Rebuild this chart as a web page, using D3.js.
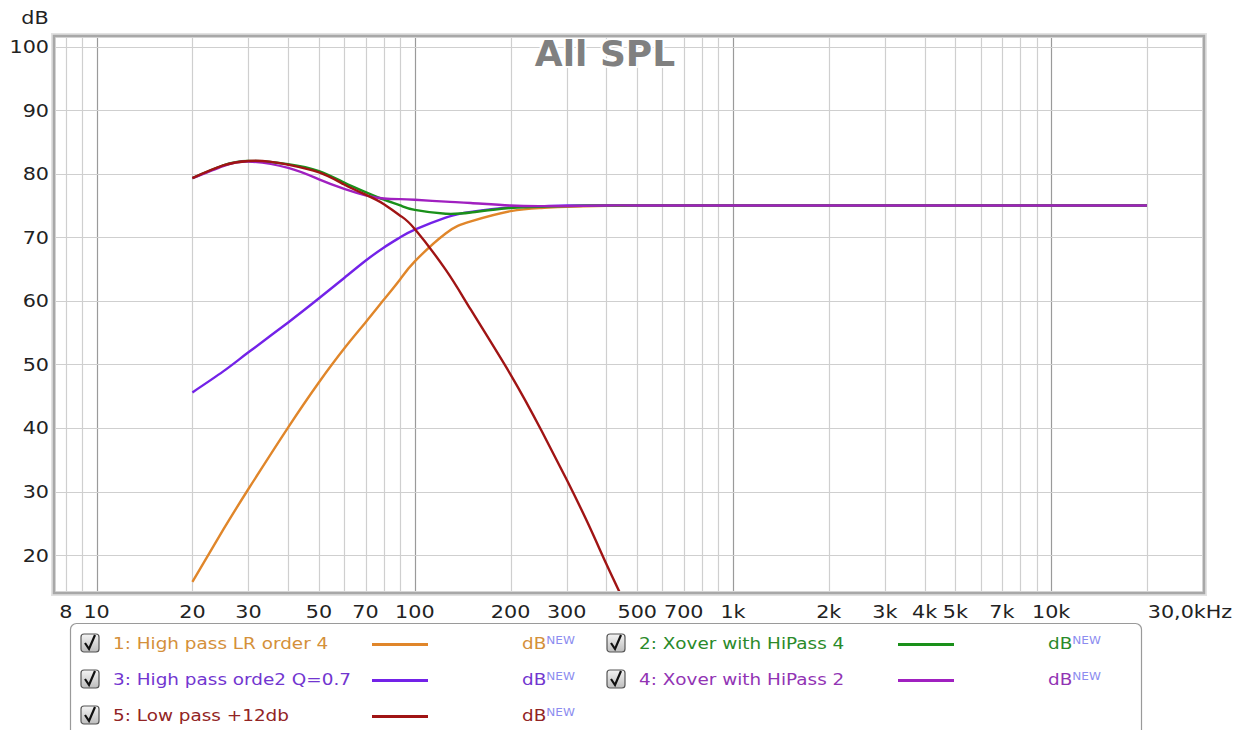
<!DOCTYPE html>
<html>
<head>
<meta charset="utf-8">
<script src="https://cdn.jsdelivr.net/npm/d3@7"></script>
<style>
  body { margin: 0; background: #fff; }
  svg text { font-family: "DejaVu Sans", Verdana, sans-serif; }
</style>
</head>
<body>
<svg id="chart" width="1233" height="730"></svg>
<script>
var svg = d3.select('svg#chart');

// data (Hz, dB)
var freq_main = [20, 25, 30, 40, 50, 60, 70, 80, 90, 100, 125, 150, 200, 250, 300, 400, 500, 1000, 2000, 5000, 10000, 20000];
var hp_lr4   = [15.8, 24.0, 30.4, 40.1, 47.2, 52.5, 56.6, 60.2, 63.4, 66.2, 70.6, 72.5, 74.1, 74.6, 74.8, 74.95, 75, 75, 75, 75, 75, 75];
var hp_o2    = [45.6, 48.9, 51.9, 56.6, 60.4, 63.6, 66.3, 68.4, 70.0, 71.2, 73.1, 74.0, 74.7, 74.9, 75, 75, 75, 75, 75, 75, 75, 75];
var xover_4  = [79.3, 81.3, 82.0, 81.5, 80.4, 78.6, 77.1, 75.9, 75.0, 74.3, 73.7, 73.9, 74.6, 74.8, 74.9, 75, 75, 75, 75, 75, 75, 75];
var xover_2  = [79.3, 81.2, 81.9, 80.9, 79.1, 77.6, 76.6, 76.1, 76.0, 75.9, 75.6, 75.4, 75.0, 74.9, 74.9, 75, 75, 75, 75, 75, 75, 75];
var freq_lp  = [20, 25, 30, 35, 40, 50, 60, 70, 80, 90, 100, 125, 150, 200, 250, 300, 350, 400, 440, 480];
var lp_12    = [79.3, 81.3, 82.0, 81.9, 81.4, 80.2, 78.3, 76.7, 75.2, 73.4, 71.3, 64.9, 58.6, 48.4, 39.6, 31.9, 25.0, 18.6, 14.2, 10.2];

var series = [
  {name: "1: High pass LR order 4", freq: freq_main, db: hp_lr4, color: "#e0862a", text: "#d4903a"},
  {name: "2: Xover with HiPass 4", freq: freq_main, db: xover_4, color: "#1a901a", text: "#2a8a2a"},
  {name: "3: High pass orde2 Q=0.7", freq: freq_main, db: hp_o2, color: "#7322e8", text: "#7236d0"},
  {name: "4: Xover with HiPass 2", freq: freq_main, db: xover_2, color: "#a020c0", text: "#9234b4"},
  {name: "5: Low pass +12db", freq: freq_lp, db: lp_12, color: "#a01414", text: "#922424"}
];
// drawing order (bottom to top)
var draw_order = [2, 0, 1, 3, 4];

var x_ticks = [8, 10, 20, 30, 50, 70, 100, 200, 300, 500, 700, 1000, 2000, 3000, 4000, 5000, 7000, 10000];
var x_tick_labels = ["8", "10", "20", "30", "50", "70", "100", "200", "300", "500", "700", "1k", "2k", "3k", "4k", "5k", "7k", "10k"];
var y_ticks = [20, 30, 40, 50, 60, 70, 80, 90, 100];

var p_left = 55, p_right = 1203, p_top = 37, p_bottom = 592;
var stretch = 1.15;

var x = d3.scaleLog().domain([7.4, 30000]).range([p_left, p_right]);
var y = d3.scaleLinear().domain([14.2, 101.5]).range([p_bottom, p_top]);

function place(px, py){ return 'translate(' + px + ',' + py + ') scale(' + stretch + ',1)'; }

// grid
var grid_freqs = [];
[1, 10, 100, 1000, 10000].forEach(function(dec){
  for (var m = 1; m < 10; m += 1){
    var f = dec * m;
    if (f >= 8 && f <= 20000) grid_freqs.push(f);
  }
});

var grid = svg.append('g');
grid.selectAll('line.v').data(grid_freqs).enter().append('line')
  .attr('x1', function(d){ return Math.round(x(d)) + 0.5; })
  .attr('x2', function(d){ return Math.round(x(d)) + 0.5; })
  .attr('y1', p_top).attr('y2', p_bottom)
  .style('stroke', function(d){ return [10, 100, 1000, 10000].indexOf(d) >= 0 ? '#9a9a9a' : '#cfcfcf'; })
  .style('stroke-width', '1.2px');
grid.selectAll('line.h').data(y_ticks).enter().append('line')
  .attr('x1', p_left).attr('x2', p_right)
  .attr('y1', function(d){ return Math.round(y(d)) + 0.5; })
  .attr('y2', function(d){ return Math.round(y(d)) + 0.5; })
  .style('stroke', '#cfcfcf')
  .style('stroke-width', '1.2px');

// title
svg.append('text')
  .attr('x', 605).attr('y', 66)
  .attr('text-anchor', 'middle')
  .style('font-size', '36px').style('font-weight', 'bold')
  .style('fill', '#808080')
  .style('stroke', '#fff').style('stroke-width', '4px')
  .style('paint-order', 'stroke')
  .text('All SPL');

// curves
svg.append('clipPath').attr('id', 'plotclip')
  .append('rect').attr('x', p_left).attr('y', p_top)
  .attr('width', p_right - p_left).attr('height', p_bottom - p_top);

var line = d3.line()
  .x(function(d){ return x(d[0]); })
  .y(function(d){ return y(d[1]); })
  .curve(d3.curveNatural);

var curves = svg.append('g').attr('clip-path', 'url(#plotclip)');
draw_order.forEach(function(i){
  var s = series[i];
  var pts = s.freq.map(function(f, k){ return [f, s.db[k]]; });
  curves.append('path')
    .attr('d', line(pts))
    .style('fill', 'none')
    .style('stroke', s.color)
    .style('stroke-width', '2.4px')
    .style('stroke-linejoin', 'round');
});

// frame
svg.append('rect')
  .attr('x', p_left - 1.5).attr('y', p_top - 1.5)
  .attr('width', p_right - p_left + 3).attr('height', p_bottom - p_top + 3)
  .style('fill', 'none').style('stroke', '#e2e2e2').style('stroke-width', '5px');
svg.append('rect')
  .attr('x', p_left - 1).attr('y', p_top - 1)
  .attr('width', p_right - p_left + 2).attr('height', p_bottom - p_top + 2)
  .style('fill', 'none').style('stroke', '#a8a8a8').style('stroke-width', '2.5px');

// axes labels
var ax = svg.append('g').style('font-size', '18px').style('fill', '#222');
ax.selectAll('text.y').data(y_ticks).enter().append('text')
  .attr('transform', function(d){ return place(49, y(d) + 6.5); })
  .attr('text-anchor', 'end')
  .text(function(d){ return d; });
ax.append('text').attr('transform', place(35, 24)).attr('text-anchor', 'middle').text('dB');
ax.selectAll('text.x').data(x_ticks).enter().append('text')
  .attr('transform', function(d){ return place(x(d), 618); })
  .attr('text-anchor', 'middle')
  .text(function(d, i){ return x_tick_labels[i]; });
ax.append('text').attr('transform', place(x(30000) - 13, 618))
  .attr('text-anchor', 'middle').text('30,0kHz');

// legend
var defs = svg.append('defs');
var grad = defs.append('linearGradient').attr('id', 'chk')
  .attr('x1', 0).attr('y1', 0).attr('x2', 0).attr('y2', 1);
grad.append('stop').attr('offset', '0%').attr('stop-color', '#f4f4f4');
grad.append('stop').attr('offset', '100%').attr('stop-color', '#bdbdbd');

svg.append('rect')
  .attr('x', 70.5).attr('y', 623.5).attr('width', 1071).attr('height', 130)
  .attr('rx', 6)
  .style('fill', '#fff').style('stroke', '#9a9a9a').style('stroke-width', '1.2px');

var legend_pos = [
  {col: 0, row: 0}, {col: 1, row: 0}, {col: 0, row: 1}, {col: 1, row: 1}, {col: 0, row: 2}
];
var col_x = [81, 607];
var row_y = [643, 679, 715];

series.forEach(function(s, i){
  var p = legend_pos[i];
  var g = svg.append('g').attr('transform', 'translate(' + col_x[p.col] + ',' + row_y[p.row] + ')');
  g.append('rect').attr('x', 0).attr('y', -9).attr('width', 18).attr('height', 18).attr('rx', 3)
    .style('fill', 'url(#chk)').style('stroke', '#555').style('stroke-width', '1.2px');
  g.append('path').attr('d', 'M 4 0 L 8 6 L 14 -8')
    .style('fill', 'none').style('stroke', '#111').style('stroke-width', '2.2px');
  g.append('text').attr('transform', place(32, 6))
    .style('font-size', '16px').style('fill', s.text).text(s.name);
  g.append('line').attr('x1', 291).attr('x2', 347).attr('y1', 1.5).attr('y2', 1.5)
    .style('stroke', s.color).style('stroke-width', '2.8px');
  var t = g.append('text').attr('transform', place(441, 6)).style('font-size', '16px').style('fill', s.text);
  t.append('tspan').text('dB');
  t.append('tspan').attr('dy', -5).style('font-size', '10.5px').style('fill', '#8c8cf0').text('NEW');
});
</script>
</body>
</html>
